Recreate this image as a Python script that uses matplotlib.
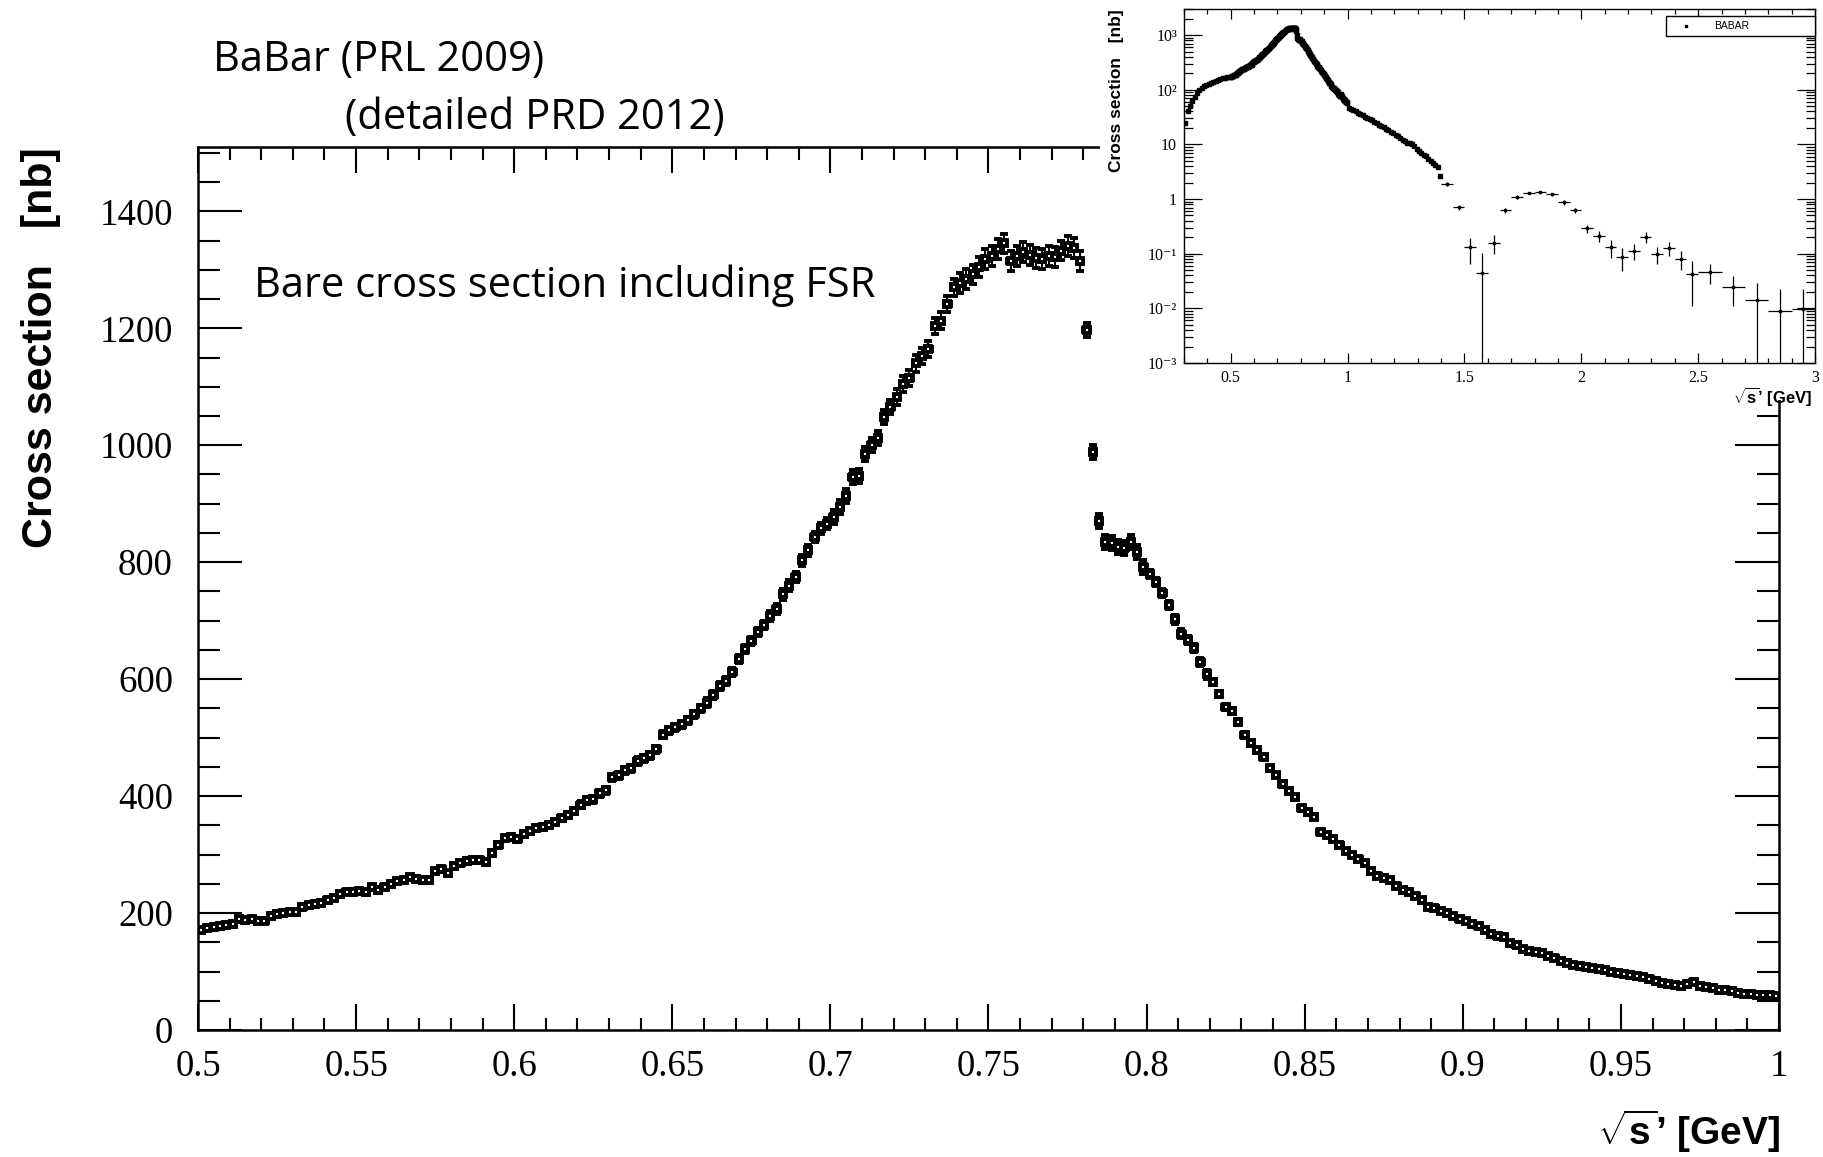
import numpy as np
import matplotlib
matplotlib.use('Agg')
import matplotlib.pyplot as plt
from matplotlib.patches import Rectangle
from matplotlib.ticker import MultipleLocator, FuncFormatter, FixedLocator, FixedFormatter, LogLocator, NullFormatter

plt.rcParams['mathtext.fontset'] = 'custom'
plt.rcParams['mathtext.rm'] = 'Liberation Sans:bold'
plt.rcParams['mathtext.it'] = 'Liberation Sans:bold'
plt.rcParams['mathtext.bf'] = 'Liberation Sans:bold'

# main plot: 2 MeV bins between 0.5 and 1.0 GeV
sqrt_s = np.arange(0.501, 1.0, 0.002)
sigma = [
    171, 174, 176, 178, 179, 181, 189, 188, 189, 187,
    187, 195, 199, 200, 201, 202, 210, 213, 216, 218,
    223, 226, 232, 236, 236, 237, 236, 244, 240, 245,
    250, 254, 257, 261, 258, 256, 257, 272, 275, 268,
    280, 285, 289, 290, 290, 287, 303, 316, 328, 330,
    327, 335, 340, 345, 347, 350, 355, 362, 368, 375,
    385, 393, 395, 405, 410, 432, 436, 444, 448, 460,
    465, 470, 480, 505, 513, 518, 523, 530, 540, 550,
    560, 573, 588, 597, 612, 635, 652, 665, 680, 693,
    708, 720, 745, 760, 775, 803, 820, 843, 858, 866,
    878, 895, 913, 945, 948, 985, 1000, 1013, 1048, 1065,
    1083, 1105, 1115, 1140, 1153, 1165, 1204, 1213, 1241, 1270,
    1278, 1285, 1292, 1305, 1318, 1324, 1335, 1345, 1315, 1324,
    1330, 1326, 1320, 1318, 1324, 1322, 1333, 1340, 1338, 1315,
    1197, 989, 870, 835, 832, 826, 824, 834, 818, 792,
    780, 766, 748, 727, 702, 678, 667, 653, 630, 608,
    595, 575, 552, 545, 527, 505, 490, 478, 466, 448,
    436, 421, 408, 398, 379, 372, 365, 338, 333, 327,
    316, 306, 300, 292, 286, 272, 263, 260, 256, 246,
    240, 236, 230, 222, 211, 208, 204, 200, 195, 190,
    186, 181, 177, 171, 165, 160, 159, 149, 145, 138,
    135, 134, 131, 126, 123, 118, 114, 112, 109, 107,
    106, 104, 102, 100, 98, 96, 94, 92, 90, 88,
    84, 80, 79, 77, 76, 79, 82, 76, 73, 71,
    69, 68, 66, 64, 62, 61, 60, 59, 59, 58,
]
# error size read per 20 MeV stretch
err_per_20mev = [4, 4, 4, 4, 5, 5, 6, 6, 7, 9, 12, 14, 17, 17, 12,
                 7, 5, 4, 3, 3, 2, 2, 2, 1.5, 1.5]
sigma_err = np.repeat(err_per_20mev, 10)

# inset: dense part below 0.5 and above 1.0 GeV (10 MeV bins)
low_x = np.arange(0.305, 0.5, 0.01)
low_y = [25, 40, 50, 62, 75, 88, 100, 108, 116, 122,
         128, 134, 140, 146, 151, 156, 161, 165, 168, 171]
high_x = np.arange(1.005, 1.4, 0.01)
high_y = [46, 44, 42, 40, 38, 36, 34, 32, 30.5, 29,
          27.5, 26, 24.5, 23, 21.5, 20.5, 19, 18, 17, 16,
          15, 14, 13, 12, 11.3, 10.8, 10.4, 10.2, 9.3, 8.2,
          7.6, 7.0, 6.5, 6.1, 5.5, 5.0, 4.6, 4.2, 3.8, 2.6]
# inset: wide bins above 1.4 GeV
wide_x = [1.425, 1.475, 1.525, 1.575, 1.625, 1.675, 1.725, 1.775, 1.825, 1.875,
          1.925, 1.975, 2.025, 2.075, 2.125, 2.175, 2.225, 2.275, 2.325, 2.375,
          2.425, 2.475, 2.55, 2.65, 2.75, 2.85, 2.95]
wide_y = [1.9, 0.71, 0.13, 0.045, 0.16, 0.62, 1.09, 1.29, 1.32, 1.23,
          0.87, 0.62, 0.29, 0.21, 0.13, 0.087, 0.114, 0.20, 0.10, 0.126,
          0.081, 0.043, 0.047, 0.025, 0.014, 0.009, 0.0098]
wide_err = [0.15, 0.08, 0.065, 0.06, 0.06, 0.07, 0.08, 0.07, 0.07, 0.07,
            0.08, 0.06, 0.05, 0.045, 0.045, 0.038, 0.038, 0.045, 0.035, 0.036,
            0.03, 0.032, 0.019, 0.014, 0.015, 0.014, 0.013]
wide_halfw = [0.025] * 22 + [0.05] * 5

W, H = 1824, 1157
fig = plt.figure(figsize=(W / 100, H / 100), dpi=100)

# ---- main plot ----
ax = fig.add_axes([198 / W, 1 - 1030 / H, (1779 - 198) / W, (1030 - 147) / H])
ax.set_zorder(0)
ax.errorbar(sqrt_s, sigma, yerr=sigma_err, xerr=0.001, fmt='s', ms=4.4,
            mfc='white', mec='black', mew=2.8, ecolor='black',
            elinewidth=1.5, capsize=3, capthick=1.5)
ax.set_xlim(0.5, 1.0)
ax.set_ylim(0, 1510)
ax.xaxis.set_major_locator(MultipleLocator(0.05))
ax.xaxis.set_minor_locator(MultipleLocator(0.01))
ax.yaxis.set_major_locator(MultipleLocator(200))
ax.yaxis.set_minor_locator(MultipleLocator(50))
ax.xaxis.set_major_formatter(FuncFormatter(lambda v, p: '%g' % round(v, 3)))
ax.tick_params(which='both', direction='in', top=True, right=True, width=1.5)
ax.tick_params(axis='x', which='major', length=19, pad=14)
ax.tick_params(axis='x', which='minor', length=9)
ax.tick_params(axis='y', which='major', length=32, pad=18)
ax.tick_params(axis='y', which='minor', length=16)
for lab in ax.get_xticklabels() + ax.get_yticklabels():
    lab.set_fontfamily('Liberation Serif')
    lab.set_fontsize(26.5)
for s in ax.spines.values():
    s.set_linewidth(1.8)

fig.text(41 / W, 1 - 147 / H, 'Cross section   [nb]', rotation=90,
         ha='center', va='top', fontsize=31, family='Liberation Sans', weight='bold')
fig.text(1780 / W, 1 - 1131 / H, r'$\sqrt{s}$’ [GeV]', ha='right', va='center',
         fontsize=28, family='Liberation Sans', weight='bold')

fig.text(213 / W, 1 - 60 / H, 'BaBar (PRL 2009)', ha='left', va='center',
         fontsize=30, family='Open Sans')
fig.text(345 / W, 1 - 118 / H, '(detailed PRD 2012)', ha='left', va='center',
         fontsize=30, family='Open Sans')
fig.text(254 / W, 1 - 286 / H, 'Bare cross section including FSR', ha='left',
         va='center', fontsize=30, family='Open Sans')

# white area behind the inset picture
fig.add_artist(Rectangle((1100 / W, 1 - 400 / H), 1 - 1100 / W, 400 / H,
                         transform=fig.transFigure, facecolor='white',
                         edgecolor='none', zorder=1))

# ---- inset ----
ax2 = fig.add_axes([1184 / W, 1 - 363 / H, (1815 - 1184) / W, (363 - 9) / H])
ax2.set_zorder(2)
ax2.set_yscale('log')
ax2.plot(low_x, low_y, 's', ms=2.5, color='black')
ax2.plot(sqrt_s, sigma, 's', ms=2.5, color='black')
ax2.errorbar(high_x, high_y, xerr=0.005, fmt='s', ms=2.5, color='black', elinewidth=0.8)
ax2.errorbar(wide_x, wide_y, yerr=wide_err, xerr=wide_halfw, fmt='s', ms=1.8,
             color='black', elinewidth=0.9)
ax2.set_xlim(0.3, 3.0)
ax2.set_ylim(1e-3, 3000)
ax2.xaxis.set_major_locator(MultipleLocator(0.5))
ax2.xaxis.set_minor_locator(MultipleLocator(0.1))
ax2.xaxis.set_major_formatter(FuncFormatter(lambda v, p: '%g' % round(v, 2)))
ax2.yaxis.set_major_locator(FixedLocator([1e-3, 1e-2, 1e-1, 1, 10, 100, 1000]))
ax2.yaxis.set_major_formatter(FixedFormatter(['10⁻³', '10⁻²', '10⁻¹', '1', '10', '10²', '10³']))
ax2.yaxis.set_minor_locator(LogLocator(base=10, subs=np.arange(2, 10), numticks=20))
ax2.yaxis.set_minor_formatter(NullFormatter())
ax2.tick_params(which='both', direction='in', top=True, right=True, width=0.9)
ax2.tick_params(axis='x', which='major', length=7, pad=5)
ax2.tick_params(axis='x', which='minor', length=3.6)
ax2.tick_params(axis='y', which='major', length=13, pad=5)
ax2.tick_params(axis='y', which='minor', length=6.5)
for lab in ax2.get_xticklabels() + ax2.get_yticklabels():
    lab.set_fontfamily(['Liberation Serif', 'DejaVu Serif'])
    lab.set_fontsize(11.5)
for s in ax2.spines.values():
    s.set_linewidth(1.0)

# legend box
ax2.add_patch(Rectangle((0.764, 0.925), 0.236, 0.055, transform=ax2.transAxes,
                        facecolor='white', edgecolor='black', lw=1.0, clip_on=False, zorder=5))
ax2.plot([0.795], [0.952], 's', ms=1.8, color='black', transform=ax2.transAxes, zorder=6)
ax2.text(0.84, 0.952, 'BABAR', transform=ax2.transAxes, ha='left', va='center',
         fontsize=7.5, family='Liberation Sans', zorder=6)

fig.text(1117 / W, 1 - 9 / H, 'Cross section   [nb]', rotation=90, ha='center', va='top',
         fontsize=12.5, family='Liberation Sans', weight='bold')
fig.text(1812 / W, 1 - 397 / H, r'$\sqrt{s}$’ [GeV]', ha='right', va='center',
         fontsize=12, family='Liberation Sans', weight='bold')

fig.savefig('out.png', dpi=100, facecolor='white')
